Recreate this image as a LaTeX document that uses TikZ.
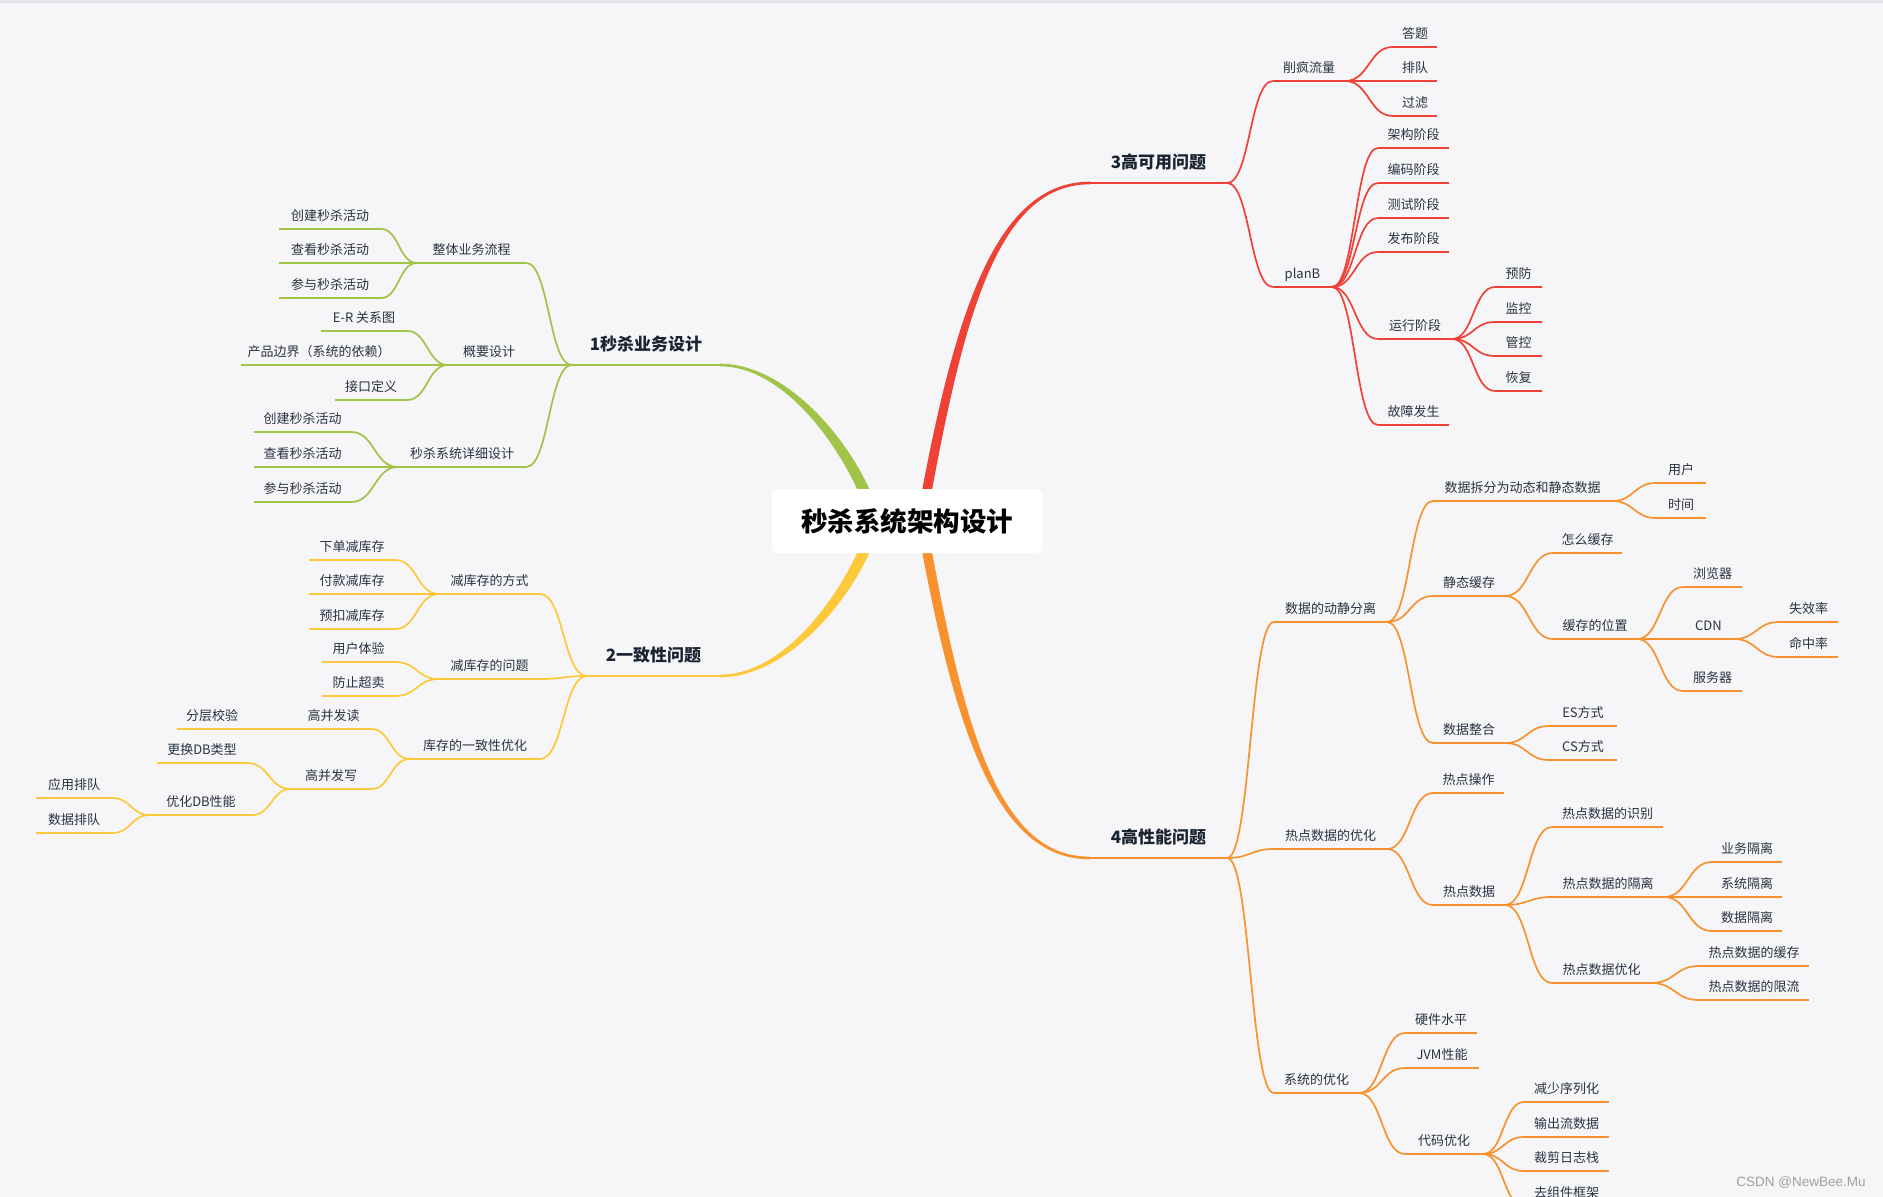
\documentclass[tikz,border=0pt]{standalone}
\usepackage{fontspec}
\setmainfont{Noto Sans CJK SC}
\newfontfamily\wmfont{Liberation Sans}
\usetikzlibrary{calc}
\definecolor{bgc}{HTML}{F6F6F8}
\definecolor{topc}{HTML}{E3E3E7}
\definecolor{gcol}{HTML}{A0C448}
\definecolor{ycol}{HTML}{FDC83A}
\definecolor{rcol}{HTML}{EF4136}
\definecolor{ocol}{HTML}{F8922F}
\definecolor{txt}{HTML}{283241}
\definecolor{mtxt}{HTML}{1B2433}
\definecolor{wmc}{HTML}{A0A0A0}
\newcommand\topicnode[6]{%
  \pgfmathsetmacro\tcx{(#3+#4)/2}\pgfmathsetmacro\tw{#4-#3}%
  \node[tp, minimum width=\tw pt] (#2) at (\tcx,#5) {#6};
  \draw[#1, lw] (#2.south west) -- (#2.south east);}
\newcommand\mainnode[6]{%
  \pgfmathsetmacro\tcx{(#3+#4)/2}\pgfmathsetmacro\tw{#4-#3}%
  \node[mtp, minimum width=\tw pt] (#2) at (\tcx,#5) {#6};
  \draw[#1, line width=2.6pt] (#2.south west) -- (#2.south east);}
\newcommand\linkR[3]{\draw[#1, lw] (#2.south east) to[bz] (#3.south west);}
\newcommand\linkL[3]{\draw[#1, lw] (#2.south west) to[bz] (#3.south east);}
\begin{document}
\begin{tikzpicture}[x=1pt,y=-1pt,
  lw/.style={line width=1.7pt},
  tp/.style={inner sep=0pt, minimum height=26pt, anchor=south, text height=11pt, text depth=2pt,
    font=\fontsize{13}{15}\selectfont, text=txt},
  mtp/.style={tp, minimum height=42pt, text height=15pt, text depth=2.5pt,
    font=\fontsize{17}{19}\selectfont\bfseries, text=mtxt},
  bz/.style={to path={let \p1=(\tikztostart),\p2=(\tikztotarget) in
    .. controls ({(\x1+\x2)/2},\y1) and ({(\x1+\x2)/2},\y2) .. (\tikztotarget)}}]
\useasboundingbox (0,0) rectangle (1883,1197);
\fill[bgc] (0,0) rectangle (1883,1197);
\fill[topc] (0,0) rectangle (1883,3);

% main topics
\mainnode{gcol}{g0}{572}{720}{365}{1秒杀业务设计}
\mainnode{ycol}{y0}{587}{720}{676}{2一致性问题}
\mainnode{rcol}{r0}{1090}{1227}{183}{3高可用问题}
\mainnode{ocol}{o0}{1090}{1227}{858}{4高性能问题}

% tapered main branches
\fill[rcol] (913,540) .. controls (950,330) and (990,181.7) .. ([yshift=1.3pt]r0.south west)
  -- ([yshift=-1.3pt]r0.south west) .. controls (993,184.3) and (960,330) .. (923,540) -- cycle;
\fill[ocol] (913,502) .. controls (950,712) and (990,859.3) .. ([yshift=-1.3pt]o0.south west)
  -- ([yshift=1.3pt]o0.south west) .. controls (993,856.7) and (960,712) .. (923,502) -- cycle;
\fill[gcol] (876,505) .. controls (851,438) and (785,363.7) .. ([yshift=1.3pt]g0.south east)
  -- ([yshift=-1.3pt]g0.south east) .. controls (782,366.3) and (839,442) .. (864,505) -- cycle;
\fill[ycol] (876,537) .. controls (851,604) and (785,677.3) .. ([yshift=-1.3pt]y0.south east)
  -- ([yshift=1.3pt]y0.south east) .. controls (782,674.7) and (839,600) .. (864,537) -- cycle;

% center
\node[fill=white, rounded corners=6pt, minimum width=270pt, minimum height=64pt, inner sep=0pt,
  font=\fontsize{26.5}{30}\selectfont\bfseries, text=black] (ctr) at (907,521) {秒杀系统架构设计};

% ---------- green ----------
\topicnode{gcol}{g1}{417}{526}{263}{整体业务流程}
\topicnode{gcol}{g2}{448}{530}{365}{概要设计}
\topicnode{gcol}{g3}{398}{526}{467}{秒杀系统详细设计}
\topicnode{gcol}{g11}{279}{381}{229}{创建秒杀活动}
\topicnode{gcol}{g12}{279}{381}{263}{查看秒杀活动}
\topicnode{gcol}{g13}{279}{381}{298}{参与秒杀活动}
\topicnode{gcol}{g21}{321}{407}{331}{E-R 关系图}
\topicnode{gcol}{g22}{241}{397}{365}{产品边界（系统的依赖）}
\topicnode{gcol}{g23}{335}{407}{400}{接口定义}
\topicnode{gcol}{g31}{254}{351}{432}{创建秒杀活动}
\topicnode{gcol}{g32}{254}{351}{467}{查看秒杀活动}
\topicnode{gcol}{g33}{254}{351}{502}{参与秒杀活动}
\foreach \c in {g1,g2,g3} {\linkL{gcol}{g0}{\c}}
\foreach \c in {g11,g12,g13} {\linkL{gcol}{g1}{\c}}
\foreach \c in {g21,g22,g23} {\linkL{gcol}{g2}{\c}}
\foreach \c in {g31,g32,g33} {\linkL{gcol}{g3}{\c}}

% ---------- yellow ----------
\topicnode{ycol}{y1}{439}{540}{594}{减库存的方式}
\topicnode{ycol}{y2}{439}{540}{679}{减库存的问题}
\topicnode{ycol}{y3}{410}{540}{759}{库存的一致性优化}
\topicnode{ycol}{y11}{309}{395}{560}{下单减库存}
\topicnode{ycol}{y12}{309}{395}{594}{付款减库存}
\topicnode{ycol}{y13}{309}{395}{629}{预扣减库存}
\topicnode{ycol}{y21}{322}{395}{662}{用户体验}
\topicnode{ycol}{y22}{322}{395}{696}{防止超卖}
\topicnode{ycol}{y31}{296}{371}{729}{高并发读}
\topicnode{ycol}{y32}{291}{371}{789}{高并发写}
\topicnode{ycol}{y311}{177}{247}{729}{分层校验}
\topicnode{ycol}{y321}{157}{247}{763}{更换DB类型}
\topicnode{ycol}{y322}{150}{252}{815}{优化DB性能}
\topicnode{ycol}{y3221}{36}{112}{798}{应用排队}
\topicnode{ycol}{y3222}{36}{112}{833}{数据排队}
\foreach \c in {y1,y2,y3} {\linkL{ycol}{y0}{\c}}
\foreach \c in {y11,y12,y13} {\linkL{ycol}{y1}{\c}}
\foreach \c in {y21,y22} {\linkL{ycol}{y2}{\c}}
\foreach \c in {y31,y32} {\linkL{ycol}{y3}{\c}}
\linkL{ycol}{y31}{y311}
\foreach \c in {y321,y322} {\linkL{ycol}{y32}{\c}}
\foreach \c in {y3221,y3222} {\linkL{ycol}{y322}{\c}}

% ---------- red ----------
\topicnode{rcol}{r1}{1273}{1345}{81}{削疯流量}
\topicnode{rcol}{r2}{1273}{1332}{287}{planB}
\topicnode{rcol}{r11}{1393}{1437}{47}{答题}
\topicnode{rcol}{r12}{1393}{1437}{81}{排队}
\topicnode{rcol}{r13}{1393}{1437}{116}{过滤}
\topicnode{rcol}{r21}{1378}{1449}{148}{架构阶段}
\topicnode{rcol}{r22}{1378}{1449}{183}{编码阶段}
\topicnode{rcol}{r23}{1378}{1449}{218}{测试阶段}
\topicnode{rcol}{r24}{1378}{1449}{252}{发布阶段}
\topicnode{rcol}{r25}{1378}{1452}{339}{运行阶段}
\topicnode{rcol}{r26}{1378}{1449}{425}{故障发生}
\topicnode{rcol}{r251}{1495}{1542}{287}{预防}
\topicnode{rcol}{r252}{1495}{1542}{322}{监控}
\topicnode{rcol}{r253}{1495}{1542}{356}{管控}
\topicnode{rcol}{r254}{1495}{1542}{391}{恢复}
\foreach \c in {r1,r2} {\linkR{rcol}{r0}{\c}}
\foreach \c in {r11,r12,r13} {\linkR{rcol}{r1}{\c}}
\foreach \c in {r21,r22,r23,r24,r25,r26} {\linkR{rcol}{r2}{\c}}
\foreach \c in {r251,r252,r253,r254} {\linkR{rcol}{r25}{\c}}

% ---------- orange ----------
\topicnode{ocol}{o1}{1274}{1387}{622}{数据的动静分离}
\topicnode{ocol}{o2}{1274}{1387}{849}{热点数据的优化}
\topicnode{ocol}{o3}{1274}{1359}{1093}{系统的优化}
\topicnode{ocol}{o11}{1433}{1612}{501}{数据拆分为动态和静态数据}
\topicnode{ocol}{o12}{1433}{1505}{596}{静态缓存}
\topicnode{ocol}{o13}{1433}{1505}{743}{数据整合}
\topicnode{ocol}{o111}{1656}{1706}{483}{用户}
\topicnode{ocol}{o112}{1656}{1706}{518}{时间}
\topicnode{ocol}{o121}{1553}{1622}{553}{怎么缓存}
\topicnode{ocol}{o122}{1553}{1637}{639}{缓存的位置}
\topicnode{ocol}{o1221}{1683}{1742}{587}{浏览器}
\topicnode{ocol}{o1222}{1683}{1734}{639}{CDN}
\topicnode{ocol}{o1223}{1683}{1742}{691}{服务器}
\topicnode{ocol}{o12221}{1779}{1838}{622}{失效率}
\topicnode{ocol}{o12222}{1779}{1838}{657}{命中率}
\topicnode{ocol}{o131}{1549}{1617}{726}{ES方式}
\topicnode{ocol}{o132}{1549}{1617}{760}{CS方式}
\topicnode{ocol}{o21}{1433}{1504}{793}{热点操作}
\topicnode{ocol}{o22}{1433}{1505}{905}{热点数据}
\topicnode{ocol}{o221}{1552}{1663}{827}{热点数据的识别}
\topicnode{ocol}{o222}{1552}{1664}{897}{热点数据的隔离}
\topicnode{ocol}{o223}{1552}{1651}{983}{热点数据优化}
\topicnode{ocol}{o2221}{1712}{1782}{862}{业务隔离}
\topicnode{ocol}{o2222}{1712}{1782}{897}{系统隔离}
\topicnode{ocol}{o2223}{1712}{1782}{931}{数据隔离}
\topicnode{ocol}{o2231}{1699}{1809}{966}{热点数据的缓存}
\topicnode{ocol}{o2232}{1699}{1809}{1000}{热点数据的限流}
\topicnode{ocol}{o31}{1405}{1477}{1033}{硬件水平}
\topicnode{ocol}{o32}{1405}{1479}{1068}{JVM性能}
\topicnode{ocol}{o33}{1405}{1483}{1154}{代码优化}
\topicnode{ocol}{o331}{1524}{1609}{1102}{减少序列化}
\topicnode{ocol}{o332}{1524}{1609}{1137}{输出流数据}
\topicnode{ocol}{o333}{1524}{1609}{1171}{裁剪日志栈}
\topicnode{ocol}{o334}{1524}{1609}{1206}{去组件框架}
\foreach \c in {o1,o2,o3} {\linkR{ocol}{o0}{\c}}
\foreach \c in {o11,o12,o13} {\linkR{ocol}{o1}{\c}}
\foreach \c in {o111,o112} {\linkR{ocol}{o11}{\c}}
\foreach \c in {o121,o122} {\linkR{ocol}{o12}{\c}}
\foreach \c in {o1221,o1222,o1223} {\linkR{ocol}{o122}{\c}}
\foreach \c in {o12221,o12222} {\linkR{ocol}{o1222}{\c}}
\foreach \c in {o131,o132} {\linkR{ocol}{o13}{\c}}
\foreach \c in {o21,o22} {\linkR{ocol}{o2}{\c}}
\foreach \c in {o221,o222,o223} {\linkR{ocol}{o22}{\c}}
\foreach \c in {o2221,o2222,o2223} {\linkR{ocol}{o222}{\c}}
\foreach \c in {o2231,o2232} {\linkR{ocol}{o223}{\c}}
\foreach \c in {o31,o32,o33} {\linkR{ocol}{o3}{\c}}
\foreach \c in {o331,o332,o333,o334} {\linkR{ocol}{o33}{\c}}

% watermark
\node[font=\wmfont\fontsize{13.5}{15}\selectfont, text=wmc, inner sep=0pt] (wm) at (1801,1183) {CSDN @NewBee.Mu};
\end{tikzpicture}
\end{document}
